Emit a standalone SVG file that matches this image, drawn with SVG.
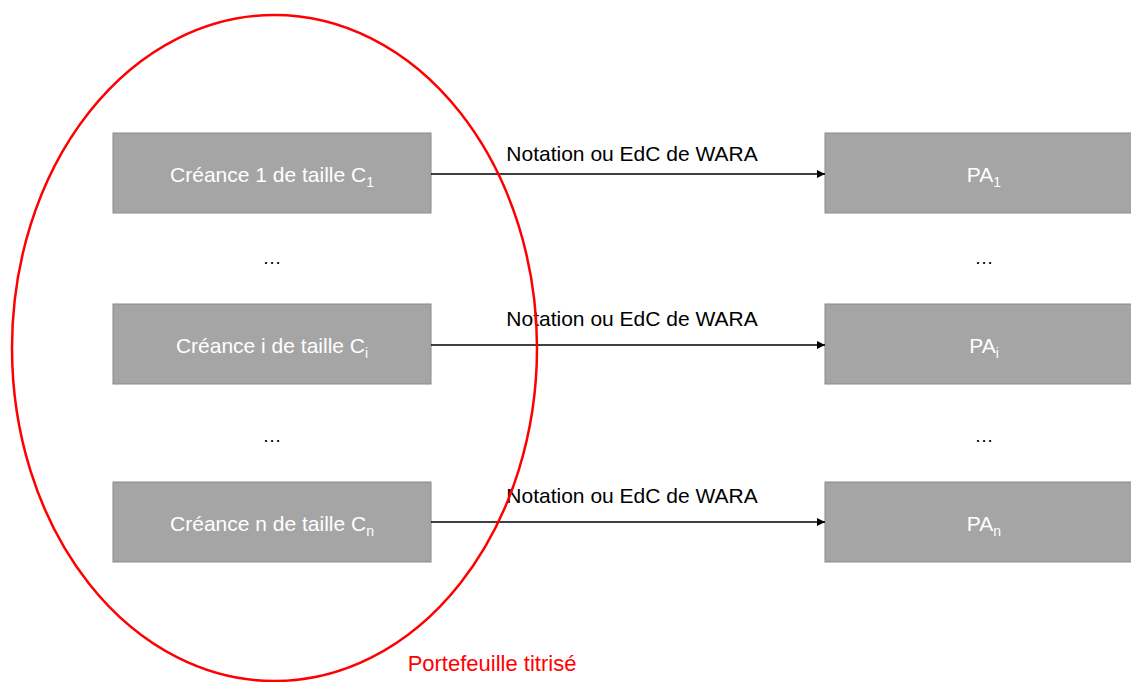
<svg xmlns="http://www.w3.org/2000/svg" width="1131" height="682" viewBox="0 0 1131 682">
<style>
.box{fill:#a5a5a5;stroke:#8a8a8a;stroke-width:1}
.bt{font-family:"Liberation Sans",Arial,sans-serif;font-size:21px;fill:#ffffff;text-anchor:middle}
.lbl{font-family:"Liberation Sans",Arial,sans-serif;font-size:21px;fill:#000000;text-anchor:middle}
.dots{font-family:"Liberation Sans",Arial,sans-serif;font-size:19px;fill:#000000;text-anchor:middle}
.sub{font-size:14px}
.conn{stroke:#000;stroke-width:1.5;fill:none;marker-end:url(#ah)}
</style>
<defs>
<marker id="ah" viewBox="0 0 10 10" refX="10" refY="5" markerWidth="8" markerHeight="8" orient="auto" markerUnits="userSpaceOnUse"><path d="M0,0 L10,5 L0,10 z" fill="#000"/></marker>
</defs>
<rect width="1131" height="682" fill="#ffffff"/>
<g id="c1"><rect class="box" x="113" y="133" width="318" height="80"/><text class="bt" x="272" y="182">Créance 1 de taille C<tspan class="sub" dy="5">1</tspan></text></g>
<g id="ci"><rect class="box" x="113" y="304" width="318" height="80"/><text class="bt" x="272" y="353">Créance i de taille C<tspan class="sub" dy="5">i</tspan></text></g>
<g id="cn"><rect class="box" x="113" y="482" width="318" height="80"/><text class="bt" x="272" y="531">Créance n de taille C<tspan class="sub" dy="5">n</tspan></text></g>
<g id="pa1"><rect class="box" x="825" y="133" width="320" height="80"/><text class="bt" x="984" y="182">PA<tspan class="sub" dy="5">1</tspan></text></g>
<g id="pai"><rect class="box" x="825" y="304" width="320" height="80"/><text class="bt" x="984" y="353">PA<tspan class="sub" dy="5">i</tspan></text></g>
<g id="pan"><rect class="box" x="825" y="482" width="320" height="80"/><text class="bt" x="984" y="531">PA<tspan class="sub" dy="5">n</tspan></text></g>
<g id="dotsL"><text class="dots" x="272" y="264">…</text><text class="dots" x="272" y="442">…</text></g>
<g id="dotsR"><text class="dots" x="984" y="264">…</text><text class="dots" x="984" y="442">…</text></g>
<g id="connectors">
<line class="conn" x1="431" y1="174" x2="825" y2="174"/>
<line class="conn" x1="431" y1="345" x2="825" y2="345"/>
<line class="conn" x1="431" y1="522" x2="825" y2="522"/>
<text class="lbl" x="632" y="161">Notation ou EdC de WARA</text>
<text class="lbl" x="632" y="326">Notation ou EdC de WARA</text>
<text class="lbl" x="632" y="503">Notation ou EdC de WARA</text>
</g>
<g id="portefeuille">
<ellipse cx="274.5" cy="348" rx="262.5" ry="333" fill="none" stroke="#ff0000" stroke-width="2.5"/>
<text x="492" y="671" font-family="'Liberation Sans',Arial,sans-serif" font-size="22" fill="#ff0000" text-anchor="middle">Portefeuille titrisé</text>
</g>
</svg>
